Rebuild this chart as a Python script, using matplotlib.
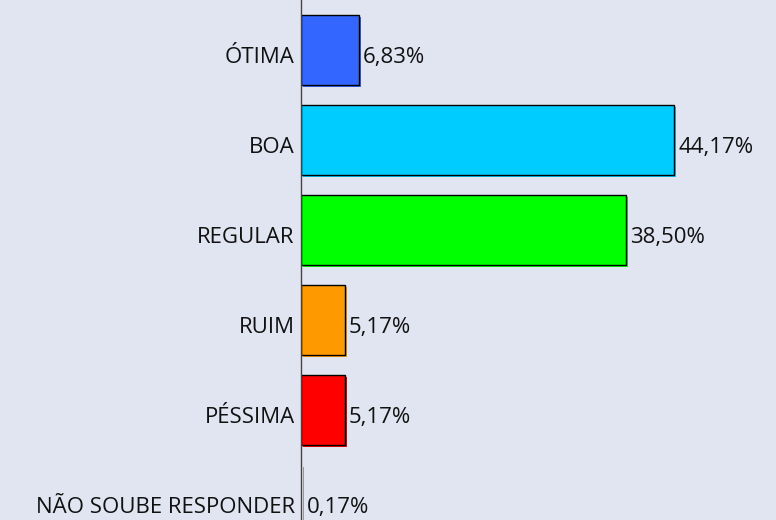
import matplotlib.pyplot as plt
from matplotlib.transforms import ScaledTranslation

categorias = ["ÓTIMA", "BOA", "REGULAR", "RUIM", "PÉSSIMA", "NÃO SOUBE RESPONDER"]
percentuais = [6.83, 44.17, 38.50, 5.17, 5.17, 0.17]
cores = ["#3366ff", "#00ccff", "#00ff00", "#ff9900", "#ff0000", "#999999"]
bordas = ["black", "black", "black", "black", "black", "none"]

fundo = "#e1e5f1"
plt.rcParams['font.family'] = ['Open Sans', 'DejaVu Sans']
tam = 16

fig = plt.figure(figsize=(7.76, 5.2), dpi=100, facecolor=fundo)
ax = fig.add_axes([301 / 776, 0, 475 / 776, 1], facecolor=fundo)

pos = list(range(len(categorias)))

# sombra levemente deslocada atrás de cada barra
sombra = ScaledTranslation(2 / 100, -2 / 100, fig.dpi_scale_trans)
ax.barh(pos, percentuais, height=0.78, color=cores, linewidth=0,
        transform=ax.transData + sombra, zorder=1)
ax.barh(pos, percentuais, height=0.78, color=cores, edgecolor=bordas,
        linewidth=1, zorder=2)

# rótulos de valor à direita e nomes das categorias à esquerda do eixo
for y, v, nome in zip(pos, percentuais, categorias):
    ax.annotate(f"{v:.2f}%".replace(".", ","), (v, y), xytext=(3, -3.5),
                textcoords="offset points", va="center_baseline", ha="left",
                fontsize=tam, color="#111111")
    ax.annotate(nome, (0, y), xytext=(-4.5, -3.5),
                textcoords="offset points", va="center_baseline", ha="right",
                fontsize=tam, color="#111111", annotation_clip=False)

ax.set_xlim(0, 475 / (373 / 44.17))
ax.set_ylim((520 - 50) / 90, -50 / 90)
ax.set_yticks([])
ax.set_xticks([])
for lado in ["top", "right", "bottom"]:
    ax.spines[lado].set_visible(False)
ax.spines["left"].set_color("#444444")
ax.spines["left"].set_linewidth(1)
ax.spines["left"].set_zorder(3)

fig.savefig("out.png", dpi=100, facecolor=fundo)
